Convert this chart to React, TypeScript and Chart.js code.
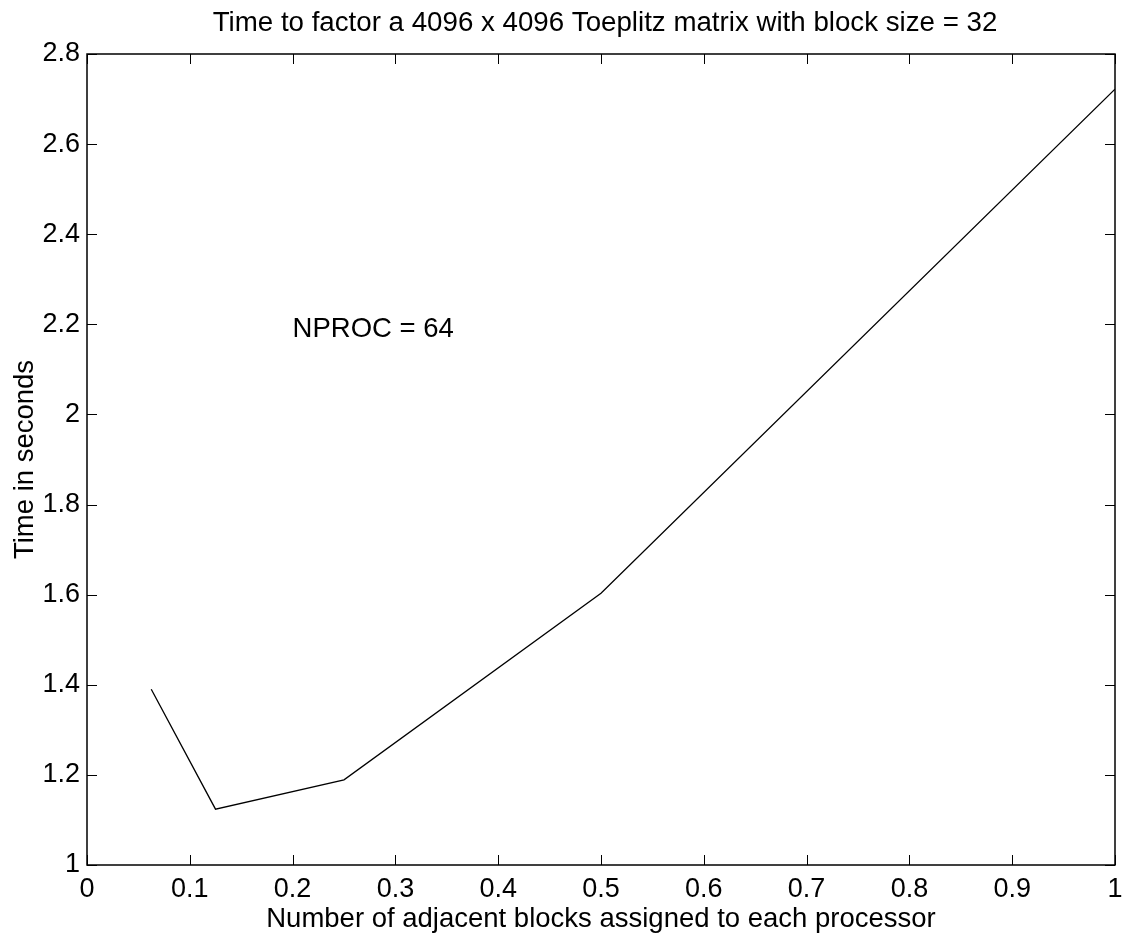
import React, { useEffect, useRef } from "react";
import { Chart, registerables } from "chart.js";

Chart.register(...registerables);

const xValues = [0.0625, 0.125, 0.25, 0.5, 1];
const yValues = [1.39, 1.124, 1.189, 1.603, 2.722];

const titleText = "Time to factor a 4096 x 4096 Toeplitz matrix with block size = 32";
const xLabel = "Number of adjacent blocks assigned to each processor";
const yLabel = "Time in seconds";
const noteText = "NPROC = 64";
const noteX = 0.2;
const noteY = 2.2;

const FONT = '"Liberation Sans", Arial, Helvetica, sans-serif';
const FS = 27;

export default function App() {
  const ref = useRef<HTMLCanvasElement | null>(null);

  useEffect(() => {
    document.body.style.margin = "0";
    const canvas = ref.current;
    if (!canvas) return;

    const framePlugin = {
      id: "matlabFrame",
      afterDraw(chart: any) {
        const ctx = chart.ctx as CanvasRenderingContext2D;
        const { left, right, top, bottom } = chart.chartArea;
        const xs = chart.scales.x;
        const ys = chart.scales.y;
        ctx.save();
        ctx.strokeStyle = "#000";
        ctx.lineWidth = 1;
        const tl = 10;
        xs.ticks.forEach((t: any) => {
          const px = Math.round(xs.getPixelForValue(t.value)) + 0.5;
          ctx.beginPath();
          ctx.moveTo(px, bottom);
          ctx.lineTo(px, bottom - tl);
          ctx.moveTo(px, top);
          ctx.lineTo(px, top + tl);
          ctx.stroke();
        });
        ys.ticks.forEach((t: any) => {
          const py = Math.round(ys.getPixelForValue(t.value)) + 0.5;
          ctx.beginPath();
          ctx.moveTo(left, py);
          ctx.lineTo(left + tl, py);
          ctx.moveTo(right, py);
          ctx.lineTo(right - tl, py);
          ctx.stroke();
        });
        ctx.lineWidth = 1.5;
        ctx.strokeRect(left, top, right - left, bottom - top);

        ctx.fillStyle = "#000";
        ctx.textAlign = "center";
        ctx.textBaseline = "alphabetic";
        ctx.font = `27.7px ${FONT}`;
        ctx.fillText(titleText, (left + right) / 2 + 4, 31);
        ctx.font = `27.5px ${FONT}`;
        ctx.fillText(xLabel, (left + right) / 2, 927);
        ctx.save();
        ctx.translate(33, (top + bottom) / 2);
        ctx.rotate(-Math.PI / 2);
        ctx.fillText(yLabel, 0, 0);
        ctx.restore();
        ctx.textAlign = "left";
        ctx.fillText(noteText, xs.getPixelForValue(noteX), ys.getPixelForValue(noteY) + 12.5);
        ctx.restore();
      },
    };

    const chart = new Chart(canvas, {
      type: "line",
      data: {
        datasets: [
          {
            data: xValues.map((x, i) => ({ x, y: yValues[i] })),
            borderColor: "#000",
            borderWidth: 1.3,
            pointRadius: 0,
            tension: 0,
            fill: false,
          },
        ],
      },
      options: {
        animation: false,
        responsive: false,
        maintainAspectRatio: false,
        devicePixelRatio: 1,
        layout: { padding: { top: 54, right: 20, left: 0, bottom: 0 } },
        plugins: {
          legend: { display: false },
          title: { display: false },
          tooltip: { enabled: false },
        },
        scales: {
          x: {
            type: "linear",
            min: 0,
            max: 1,
            grid: { display: false, drawTicks: false },
            border: { display: false },
            ticks: {
              stepSize: 0.1,
              autoSkip: false,
              maxRotation: 0,
              padding: 8,
              color: "#000",
              font: { family: FONT, size: FS },
              callback: (v: any) => String(Math.round(Number(v) * 10) / 10),
            },
            afterFit: (s: any) => {
              s.height = 71;
            },
          },
          y: {
            type: "linear",
            min: 1,
            max: 2.8,
            grid: { display: false, drawTicks: false },
            border: { display: false },
            ticks: {
              stepSize: 0.2,
              autoSkip: false,
              padding: 7,
              color: "#000",
              font: { family: FONT, size: FS },
              callback: (v: any) => String(Math.round(Number(v) * 10) / 10),
            },
            afterFit: (s: any) => {
              s.width = 87;
            },
          },
        },
      },
      plugins: [framePlugin],
    });

    return () => chart.destroy();
  }, []);

  return (
    <div style={{ width: 1135, height: 936, background: "#fff" }}>
      <canvas ref={ref} width={1135} height={936} style={{ display: "block" }} />
    </div>
  );
}
